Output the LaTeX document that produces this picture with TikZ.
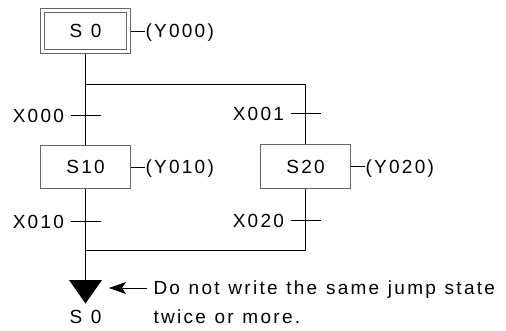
\documentclass[tikz,border=0pt]{standalone}
\usepackage{fontspec}
\setmainfont{Liberation Sans}[LetterSpace=12,WordSpace=1.15]
\usepackage{tikz}
\usetikzlibrary{arrows.meta,positioning,calc}

\tikzset{
  lbl/.style={inner sep=0pt,text height=13.5pt,text depth=0pt,font=\fontsize{19}{22}\selectfont},
  statebox/.style={lbl,draw=black!60,line width=1pt,minimum width=90pt,minimum height=44pt}
}

\begin{document}
\begin{tikzpicture}[x=1pt,y=-1pt,line width=1pt,>=Stealth]
  \useasboundingbox (0,0) rectangle (506,330);
  % states
  \node[statebox,minimum height=45pt] (s0) at (85.5,31) {};
  \node[statebox,minimum width=82pt,minimum height=37pt] (s0in) at (s0.center) {S 0};
  \node[statebox,minimum height=43pt] (s10) at (85.5,167) {S10};
  \node[statebox] (s20) at (305.5,166.5) {S20};
  % outputs
  \foreach \s/\y in {s0/Y000,s10/Y010,s20/Y020}{
    \draw (\s.east) -- ++(14,0) node[lbl,anchor=west] (o\s) {(\y)};
  }
  % branch and join
  \coordinate (split) at (85.5,84.5);
  \coordinate (splitR) at (305.5,84.5);
  \coordinate (join) at (85.5,250.5);
  \coordinate (joinR) at (305.5,250.5);
  \coordinate (jump) at (85.5,280);
  \draw (s0.south) -- (s10.north);
  \draw (s10.south) -- (jump);
  \draw (split) -- (splitR) -- (s20.north);
  \draw (s20.south) -- (joinR) -- (join);
  % transitions
  \foreach \n/\x/\y/\t in {a/85.5/115.5/X000,b/305.5/113.5/X001,c/85.5/221.5/X010,d/305.5/220.5/X020}{
    \coordinate (t\n) at (\x,\y);
    \draw ($(t\n)+(-15,0)$) -- ($(t\n)+(15,0)$);
    \node[lbl,anchor=east] (l\n) at ($(t\n)+(-21,0)$) {\t};
  }
  % jump
  \fill (jump) -- ++(16.5,0) -- (85.5,303.5) -- (69,280) -- cycle;
  \node[lbl] (jlbl) at (85.5,317) {S 0};
  \node[lbl,anchor=west,inner xsep=6pt] (note1) at (147,288) {Do not write the same jump state};
  \node[lbl,anchor=west] (note2) at (153,317) {twice or more.};
  \coordinate (pointer) at (109,288);
  \draw[-{Stealth[length=17pt,width=12pt,inset=4pt]}] (note1.west) -- (pointer);
\end{tikzpicture}
\end{document}
